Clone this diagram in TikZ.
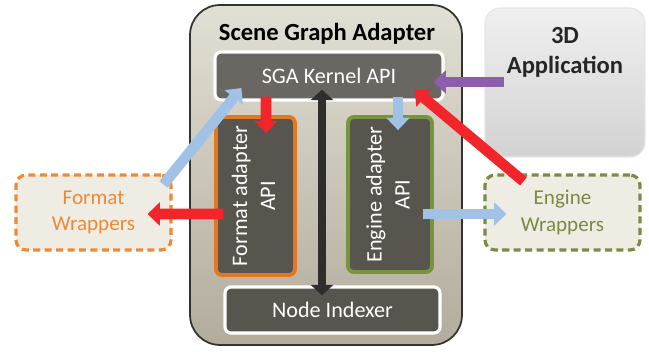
\documentclass[tikz,border=0pt]{standalone}
\usepackage{fontspec}
\setmainfont{Carlito}
\usepackage{graphicx}
\usetikzlibrary{arrows.meta,calc}
\definecolor{sgaedge}{HTML}{35332F}
\definecolor{sgatop}{HTML}{E2DFD4}
\definecolor{sgabot}{HTML}{B2AC9D}
\definecolor{apifill}{HTML}{58554F}
\definecolor{kernfill}{HTML}{6A6762}
\definecolor{fmtorange}{HTML}{E4781F}
\definecolor{enggreen}{HTML}{76953D}
\definecolor{wrapfill}{HTML}{EEECE3}
\definecolor{wraporange}{HTML}{EE8A35}
\definecolor{wrapgreen}{HTML}{7B8A45}
\definecolor{arrred}{HTML}{F2262A}
\definecolor{arrblue}{HTML}{A2C1E7}
\definecolor{arrpurple}{HTML}{8C5EAD}
\definecolor{arrblack}{HTML}{2F2E2C}
\newcommand{\rot}[1]{\rotatebox{90}{\begin{tabular}{@{}c@{}}#1\end{tabular}}}

\begin{document}
\begin{tikzpicture}[x=0.02cm,y=-0.02cm,
  darkbox/.style={draw,rounded corners=0.12cm,inner sep=0pt,text=white,
    font=\fontsize{12.6}{16}\selectfont},
  wrapbox/.style={draw,dashed,dash pattern=on 4pt off 2.5pt,line width=1.8pt,
    fill=wrapfill,rounded corners=0.2cm,minimum width=3.1cm,minimum height=1.5cm,
    align=center,font=\fontsize{12}{15}\selectfont},
  fat/.style={line width=6pt,-{Triangle[length=7pt,width=13pt]}},
  redarrow/.style={fat,draw=arrred,fill=arrred},
  bluearrow/.style={fat,draw=arrblue,fill=arrblue},
  purplearrow/.style={fat,draw=arrpurple,fill=arrpurple},
  blackarrow/.style={line width=5pt,draw=arrblack,fill=arrblack,
    {Triangle[length=6pt,width=12.5pt]}-{Triangle[length=6pt,width=12.5pt]}}]
  \useasboundingbox (0,0) rectangle (649,354);

  \node[draw=sgaedge,line width=1pt,top color=sgatop,bottom color=sgabot,
    rounded corners=0.6cm,minimum width=5.44cm,minimum height=6.8cm] (sga) at (326,175) {};
  \node[font=\fontsize{14}{16}\selectfont\bfseries,text=black] (title) at (327,34) {Scene Graph Adapter};

  \node[darkbox,draw=white,line width=1.8pt,fill=kernfill,
    minimum width=4.56cm,minimum height=0.96cm] (kernel) at (329,76) {SGA Kernel API};
  \node[darkbox,draw=fmtorange,line width=2.2pt,fill=apifill,
    minimum width=1.58cm,minimum height=3.16cm] (fmtapi) at (255.5,196) {\rot{Format adapter\\API}};
  \node[darkbox,draw=enggreen,line width=2.2pt,fill=apifill,
    minimum width=1.68cm,minimum height=3.1cm] (engapi) at (390,194.5) {\rot{Engine adapter\\API}};
  \node[darkbox,draw=white,line width=1.8pt,fill=apifill,
    minimum width=4.3cm,minimum height=0.92cm] (indexer) at (332.5,310) {Node Indexer};

  \node[draw=gray!20,line width=0.6pt,top color=gray!12,bottom color=gray!35,
    rounded corners=0.3cm,minimum width=3.2cm,minimum height=2.98cm] (app) at (565,82.5) {};
  \node[align=center,font=\fontsize{14}{17}\selectfont\bfseries,text=black!85] (apptext)
    at (565,52) {3D\\Application};

  \node[wrapbox,draw=wraporange,text=wraporange] (fmtwrap) at (93.5,212.5) {Format\\Wrappers};
  \node[wrapbox,draw=wrapgreen,text=wrapgreen] (engwrap) at (562.5,212.5) {Engine\\Wrappers};

  \draw[blackarrow] ($(kernel.south)+(-7,-12)$) -- ($(indexer.north)+(-10.5,10)$);
  \draw[redarrow] ($(kernel.south)+(-63,-5)$) -- ($(fmtapi.north)+(10.5,18)$);
  \draw[bluearrow] ($(kernel.south)+(69,-5)$) -- ($(engapi.north)+(8,15)$);
  \draw[purplearrow] ($(app.west)+(20,-0.5)$) -- ($(kernel.east)+(-11,6)$);
  \draw[redarrow] ($(engwrap.north west)+(40,8)$) -- ($(kernel.east)+(-30,14)$);
  \draw[bluearrow] ($(fmtwrap.north east)+(-9,11)$) -- ($(kernel.west)+(28,12)$);
  \draw[redarrow] ($(fmtapi.west)+(9,18)$) -- ($(fmtwrap.east)+(-25,1.5)$);
  \draw[bluearrow] ($(engapi.east)+(-11,19.5)$) -- ($(engwrap.west)+(23,1.5)$);
\end{tikzpicture}
\end{document}
